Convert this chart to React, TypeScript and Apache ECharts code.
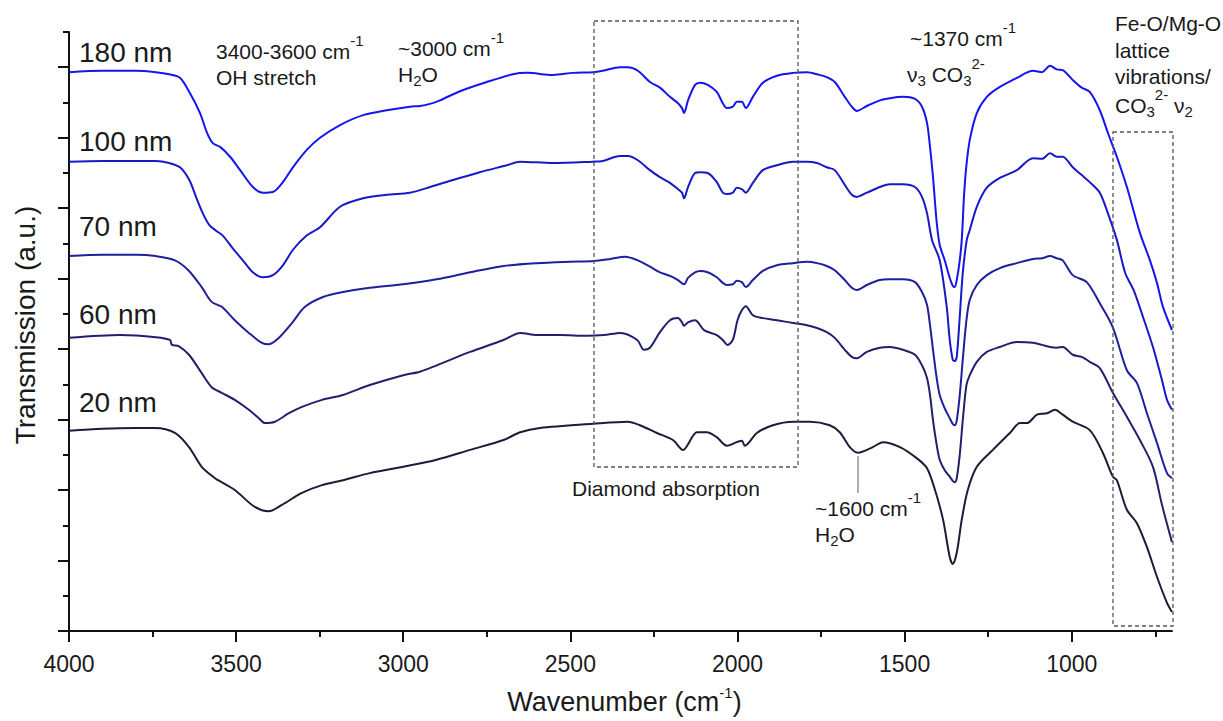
import React, { useEffect, useRef } from "react";
import * as echarts from "echarts";

// Axis ticks
const xMajorTicks = [4000, 3500, 3000, 2500, 2000, 1500, 1000];
const xMinorTicks = [3750, 3250, 2750, 2250, 1750, 1250, 750];
const yMajorTicks = [0, 1, 2, 3, 4, 5, 6, 7, 8];
const yMinorTicks = [0.5, 1.5, 2.5, 3.5, 4.5, 5.5, 6.5, 7.5, 8.5];

const seriesNames = ["180 nm", "100 nm", "70 nm", "60 nm", "20 nm"];
const seriesColors = ["#1515ee", "#1818c8", "#1f1f9c", "#20206c", "#1c1c38"];

// [wavenumber (cm-1), transmission (a.u., offset)]
const s180: [number, number][] = [
  [4000, 7.93], [3900, 7.95], [3800, 7.95], [3740, 7.93], [3700, 7.9], [3668, 7.85], [3638, 7.63], [3608, 7.35],
  [3587, 7.07], [3569, 6.92], [3548, 6.87], [3518, 6.73], [3488, 6.54], [3450, 6.3], [3420, 6.22], [3390, 6.23],
  [3360, 6.37], [3330, 6.58], [3288, 6.83], [3249, 7.0], [3189, 7.18], [3120, 7.32], [3049, 7.39], [2980, 7.44],
  [2950, 7.45], [2920, 7.48], [2890, 7.53], [2830, 7.66], [2750, 7.79], [2672, 7.9], [2630, 7.92], [2552, 7.89],
  [2492, 7.92], [2432, 7.93], [2403, 7.95], [2352, 8.0], [2328, 8.0], [2298, 7.95], [2262, 7.79], [2232, 7.71],
  [2202, 7.58], [2178, 7.49], [2166, 7.42], [2160, 7.35], [2148, 7.53], [2127, 7.75], [2112, 7.78], [2089, 7.75],
  [2062, 7.65], [2044, 7.49], [2032, 7.42], [2014, 7.44], [2002, 7.51], [1987, 7.51], [1975, 7.42], [1954, 7.58],
  [1924, 7.78], [1882, 7.88], [1834, 7.92], [1792, 7.93], [1762, 7.9], [1733, 7.86], [1709, 7.79], [1679, 7.58],
  [1658, 7.44], [1643, 7.38], [1613, 7.45], [1574, 7.53], [1544, 7.56], [1505, 7.58], [1469, 7.55], [1448, 7.44],
  [1433, 7.21], [1424, 6.87], [1415, 6.44], [1404, 5.8], [1395, 5.48], [1380, 5.26], [1365, 5.01], [1356, 4.9],
  [1350, 4.88], [1344, 4.98], [1335, 5.26], [1329, 5.55], [1322, 6.19], [1315, 6.61], [1305, 6.97], [1284, 7.35],
  [1254, 7.58], [1215, 7.72], [1164, 7.85], [1116, 7.95], [1089, 7.93], [1065, 8.02], [1045, 7.97], [1027, 7.96],
  [997, 7.82], [970, 7.71], [946, 7.65], [916, 7.39], [892, 7.07], [865, 6.73], [835, 6.3], [796, 5.65],
  [766, 5.26], [745, 4.94], [727, 4.6], [700, 4.27],
];

const s100: [number, number][] = [
  [4000, 6.66], [3900, 6.67], [3800, 6.67], [3740, 6.67], [3700, 6.64], [3668, 6.58], [3640, 6.4], [3620, 6.16],
  [3600, 5.93], [3580, 5.76], [3560, 5.68], [3540, 5.61], [3510, 5.43], [3480, 5.26], [3450, 5.09], [3420, 5.02],
  [3390, 5.05], [3360, 5.19], [3330, 5.41], [3290, 5.61], [3249, 5.73], [3189, 6.02], [3120, 6.14], [3049, 6.19],
  [2980, 6.22], [2920, 6.3], [2851, 6.4], [2771, 6.51], [2690, 6.61], [2651, 6.66], [2552, 6.64], [2433, 6.66],
  [2403, 6.67], [2352, 6.74], [2328, 6.74], [2298, 6.68], [2262, 6.54], [2232, 6.44], [2202, 6.36], [2178, 6.27],
  [2166, 6.22], [2160, 6.14], [2148, 6.3], [2127, 6.5], [2112, 6.51], [2089, 6.5], [2062, 6.37], [2044, 6.22],
  [2032, 6.2], [2014, 6.22], [2002, 6.29], [1987, 6.27], [1975, 6.22], [1954, 6.36], [1924, 6.54], [1882, 6.61],
  [1834, 6.66], [1792, 6.66], [1762, 6.64], [1733, 6.58], [1709, 6.54], [1679, 6.33], [1658, 6.19], [1643, 6.16],
  [1613, 6.22], [1574, 6.3], [1544, 6.34], [1505, 6.34], [1469, 6.3], [1448, 6.16], [1433, 5.93], [1418, 5.55],
  [1395, 5.26], [1374, 4.6], [1365, 4.13], [1356, 3.85], [1350, 3.83], [1344, 3.89], [1335, 4.46], [1326, 5.08],
  [1314, 5.55], [1305, 5.69], [1284, 6.02], [1254, 6.29], [1215, 6.43], [1164, 6.54], [1116, 6.71], [1089, 6.7],
  [1065, 6.78], [1045, 6.73], [1027, 6.73], [997, 6.58], [970, 6.47], [946, 6.37], [916, 6.22], [892, 5.93],
  [865, 5.55], [840, 5.08], [815, 4.84], [787, 4.46], [757, 4.03], [730, 3.56], [715, 3.28], [700, 3.14],
];

const s70: [number, number][] = [
  [4000, 5.32], [3900, 5.34], [3800, 5.34], [3740, 5.32], [3683, 5.26], [3643, 5.12], [3603, 4.88], [3573, 4.67],
  [3543, 4.6], [3504, 4.41], [3462, 4.23], [3423, 4.09], [3402, 4.07], [3372, 4.16], [3333, 4.37], [3294, 4.6],
  [3240, 4.74], [3180, 4.81], [3100, 4.87], [3000, 4.92], [2900, 4.99], [2800, 5.09], [2700, 5.18], [2600, 5.22],
  [2500, 5.24], [2430, 5.25], [2380, 5.28], [2337, 5.31], [2298, 5.26], [2262, 5.17], [2232, 5.09], [2202, 5.04],
  [2178, 4.98], [2160, 4.92], [2148, 5.01], [2127, 5.09], [2112, 5.11], [2089, 5.09], [2062, 5.02], [2044, 4.94],
  [2032, 4.91], [2014, 4.92], [2002, 4.97], [1987, 4.95], [1975, 4.88], [1954, 4.98], [1924, 5.11], [1882, 5.19],
  [1834, 5.22], [1792, 5.24], [1762, 5.22], [1733, 5.18], [1709, 5.12], [1679, 4.98], [1658, 4.87], [1643, 4.84],
  [1613, 4.91], [1574, 4.98], [1544, 4.99], [1505, 4.99], [1469, 4.95], [1448, 4.81], [1433, 4.63], [1424, 4.34],
  [1415, 3.99], [1404, 3.59], [1395, 3.35], [1380, 3.16], [1365, 3.02], [1356, 2.94], [1350, 2.92], [1344, 2.99],
  [1335, 3.35], [1326, 3.85], [1315, 4.41], [1305, 4.7], [1284, 4.91], [1254, 5.05], [1215, 5.15], [1164, 5.22],
  [1116, 5.28], [1089, 5.29], [1065, 5.32], [1045, 5.29], [1027, 5.26], [997, 5.05], [955, 4.95], [916, 4.65],
  [877, 4.31], [835, 3.7], [805, 3.52], [775, 3.09], [745, 2.67], [715, 2.24], [700, 2.17],
];

const s60: [number, number][] = [
  [4000, 4.16], [3847, 4.2], [3740, 4.17], [3698, 4.13], [3692, 4.06], [3671, 4.04], [3641, 3.92], [3603, 3.66],
  [3573, 3.46], [3543, 3.38], [3504, 3.28], [3462, 3.14], [3432, 3.02], [3414, 2.95], [3384, 2.97], [3342, 3.09],
  [3303, 3.18], [3243, 3.28], [3180, 3.35], [3100, 3.49], [3000, 3.63], [2950, 3.68], [2900, 3.77], [2800, 3.96],
  [2700, 4.13], [2650, 4.23], [2600, 4.2], [2531, 4.2], [2450, 4.19], [2400, 4.2], [2350, 4.23], [2300, 4.13],
  [2280, 3.99], [2262, 4.02], [2232, 4.24], [2202, 4.41], [2178, 4.44], [2166, 4.38], [2160, 4.33], [2148, 4.38],
  [2127, 4.41], [2100, 4.27], [2062, 4.2], [2044, 4.13], [2030, 4.06], [2014, 4.13], [2000, 4.41], [1987, 4.55],
  [1975, 4.61], [1954, 4.48], [1924, 4.44], [1882, 4.41], [1834, 4.37], [1792, 4.34], [1762, 4.3], [1733, 4.24],
  [1709, 4.16], [1679, 3.99], [1658, 3.89], [1643, 3.87], [1613, 3.96], [1574, 4.02], [1544, 4.03], [1505, 3.99],
  [1469, 3.92], [1448, 3.77], [1433, 3.59], [1424, 3.35], [1415, 2.99], [1404, 2.64], [1395, 2.43], [1380, 2.28],
  [1365, 2.19], [1356, 2.13], [1350, 2.11], [1344, 2.17], [1335, 2.5], [1326, 2.99], [1315, 3.49], [1305, 3.63],
  [1284, 3.82], [1254, 3.96], [1215, 4.03], [1164, 4.1], [1116, 4.09], [1089, 4.06], [1065, 4.03], [1045, 4.02],
  [1027, 4.03], [997, 3.92], [970, 3.89], [946, 3.82], [916, 3.73], [877, 3.38], [835, 3.04], [796, 2.71],
  [757, 2.33], [730, 1.79], [700, 1.26],
];

const s20: [number, number][] = [
  [4000, 2.84], [3900, 2.87], [3800, 2.88], [3743, 2.88], [3683, 2.81], [3641, 2.61], [3603, 2.33], [3564, 2.17],
  [3554, 2.14], [3504, 2.0], [3444, 1.76], [3402, 1.7], [3363, 1.79], [3303, 1.96], [3243, 2.07], [3180, 2.14],
  [3100, 2.24], [3000, 2.33], [2900, 2.43], [2800, 2.57], [2700, 2.71], [2650, 2.82], [2591, 2.88], [2433, 2.94],
  [2328, 2.97], [2292, 2.92], [2241, 2.81], [2193, 2.71], [2163, 2.57], [2121, 2.82], [2092, 2.82], [2062, 2.75],
  [2032, 2.63], [2002, 2.68], [1987, 2.7], [1978, 2.63], [1942, 2.81], [1894, 2.92], [1834, 2.97], [1783, 2.97],
  [1724, 2.92], [1694, 2.82], [1664, 2.61], [1640, 2.53], [1595, 2.61], [1565, 2.68], [1514, 2.61], [1463, 2.45],
  [1433, 2.31], [1409, 2.0], [1385, 1.58], [1365, 1.05], [1356, 0.95], [1344, 1.11], [1329, 1.58], [1311, 2.0],
  [1284, 2.33], [1236, 2.57], [1185, 2.81], [1155, 2.95], [1134, 2.95], [1104, 3.07], [1074, 3.09], [1050, 3.14],
  [1027, 3.07], [997, 2.97], [946, 2.85], [907, 2.53], [877, 2.19], [865, 2.14], [835, 1.72], [805, 1.53],
  [775, 1.19], [745, 0.77], [715, 0.4], [700, 0.27],
];

const seriesData = [s180, s100, s70, s60, s20];

const FONT = "'Liberation Sans', Arial, Helvetica, sans-serif";
const INK = "#1a1a1a";

const rich = {
  sup: { fontSize: 15, fontFamily: FONT, fill: INK, color: INK, lineHeight: 15, padding: [0, 0, 22, 0] },
  sub: { fontSize: 15, fontFamily: FONT, fill: INK, color: INK, lineHeight: 15, padding: [13, 0, 0, 0] },
};

function txt(x: number, y: number, text: string, size = 21, rotation = 0, align = "left") {
  return {
    type: "text",
    x,
    y,
    rotation,
    z: 10,
    style: {
      text,
      fontSize: size,
      fontFamily: FONT,
      fill: INK,
      align,
      verticalAlign: "middle",
      lineHeight: size + 2,
      rich,
    },
  };
}

export default function App() {
  const ref = useRef<HTMLDivElement>(null);

  useEffect(() => {
    if (!ref.current) return;
    const chart = echarts.init(ref.current, undefined, { renderer: "svg" });

    const axisLineStyle = { color: "#111", width: 2 };
    const tickStyle = { color: "#111", width: 2 };

    const option: any = {
      animation: false,
      backgroundColor: "#ffffff",
      grid: { left: 69, right: 51, top: 32, bottom: 90, containLabel: false, outerBoundsMode: "none" },
      xAxis: [
        {
          type: "value",
          min: 700,
          max: 4000,
          inverse: true,
          position: "bottom",
          axisLine: { show: true, lineStyle: axisLineStyle },
          axisTick: { show: true, inside: false, length: 11, lineStyle: tickStyle, customValues: xMajorTicks },
          axisLabel: {
            show: true,
            customValues: xMajorTicks,
            fontSize: 23,
            fontFamily: FONT,
            color: INK,
            margin: 21,
            formatter: (v: number) => String(v),
          },
          splitLine: { show: false },
          name: "Wavenumber (cm{sup|-1})",
          nameLocation: "middle",
          nameGap: 56,
          nameTextStyle: {
            fontSize: 27,
            fontFamily: FONT,
            color: INK,
            lineHeight: 29,
            padding: [0, 0, 0, 8],
            rich: { sup: { fontSize: 15, fontFamily: FONT, color: INK, lineHeight: 15, padding: [0, 0, 18, 0] } },
          },
        },
        {
          type: "value",
          min: 700,
          max: 4000,
          inverse: true,
          position: "bottom",
          axisLine: { show: false },
          axisTick: { show: true, inside: false, length: 6, lineStyle: tickStyle, customValues: xMinorTicks },
          axisLabel: { show: false },
          splitLine: { show: false },
        },
      ],
      yAxis: [
        {
          type: "value",
          min: 0,
          max: 8.5,
          position: "left",
          axisLine: { show: true, lineStyle: axisLineStyle },
          axisTick: { show: true, inside: false, length: 11, lineStyle: tickStyle, customValues: yMajorTicks },
          axisLabel: { show: false },
          splitLine: { show: false },
        },
        {
          type: "value",
          min: 0,
          max: 8.5,
          position: "left",
          axisLine: { show: false },
          axisTick: { show: true, inside: false, length: 6, lineStyle: tickStyle, customValues: yMinorTicks },
          axisLabel: { show: false },
          splitLine: { show: false },
        },
      ],
      series: seriesData.map((d, i) => ({
        name: seriesNames[i],
        type: "line",
        data: d,
        showSymbol: false,
        symbol: "none",
        smooth: 0.3,
        lineStyle: { color: seriesColors[i], width: 2 },
        itemStyle: { color: seriesColors[i] },
        z: 3,
      })),
      graphic: [
        // y axis title
        txt(25, 325, "Transmission (a.u.)", 28, Math.PI / 2, "center"),
        // sample labels
        txt(79, 52, seriesNames[0], 28),
        txt(79, 141, seriesNames[1], 28),
        txt(79, 226, seriesNames[2], 28),
        txt(79, 314, seriesNames[3], 28),
        txt(79, 402, seriesNames[4], 28),
        // band annotations
        txt(216, 51, "3400-3600 cm{sup|-1}"),
        txt(216, 77, "OH stretch"),
        txt(398, 48, "~3000 cm{sup|-1}"),
        txt(398, 74, "H{sub|2}O"),
        txt(910, 38, "~1370 cm{sup|-1}"),
        txt(907, 74, "ν{sub|3} CO{sub|3}{sup|2-}"),
        txt(1115, 23, "Fe-O/Mg-O"),
        txt(1115, 50, "lattice"),
        txt(1115, 76, "vibrations/"),
        txt(1115, 105, "CO{sub|3}{sup|2-} ν{sub|2}"),
        txt(572, 488, "Diamond absorption"),
        txt(815, 508, "~1600 cm{sup|-1}"),
        txt(815, 534, "H{sub|2}O"),
        // dashed boxes
        {
          type: "rect",
          z: 5,
          shape: { x: 594, y: 21, width: 204, height: 446 },
          style: { fill: "none", stroke: "#555", lineWidth: 1.3, lineDash: [4, 3] },
        },
        {
          type: "rect",
          z: 5,
          shape: { x: 1113, y: 132, width: 60, height: 494 },
          style: { fill: "none", stroke: "#555", lineWidth: 1.3, lineDash: [4, 3] },
        },
        // leader line to 1600 band
        {
          type: "line",
          z: 5,
          shape: { x1: 858, y1: 456, x2: 858, y2: 493 },
          style: { stroke: "#777", lineWidth: 1.2 },
        },
      ],
    };

    chart.setOption(option);
    return () => {
      chart.dispose();
    };
  }, []);

  return (
    <div
      ref={ref}
      style={{ position: "absolute", left: 0, top: 0, width: 1223, height: 721, background: "#fff" }}
    />
  );
}
